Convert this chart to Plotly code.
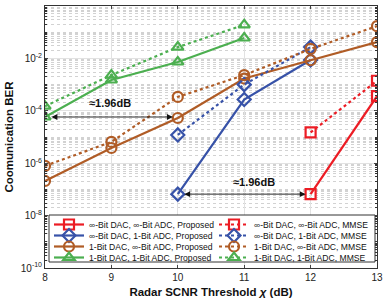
import numpy as np
import plotly.graph_objects as go

# series values (BER)
red_prop_x = [12, 13]
red_prop = [6.6e-8, 3.6e-4]
red_mmse_x = [12, 13]
red_mmse = [1.5e-5, 1.4e-3]

blue_prop_x = [10, 11, 12]
blue_prop = [6.6e-8, 2.7e-4, 8.7e-3]
blue_mmse_x = [10, 11, 12]
blue_mmse = [1.2e-5, 1.0e-3, 2.7e-2]

brown_prop_x = [8, 9, 10, 11, 12, 13]
brown_prop = [2.1e-7, 3.8e-6, 5.3e-5, 1.7e-3, 8.5e-3, 4.2e-2]
brown_mmse_x = [8, 9, 10, 11, 12, 13]
brown_mmse = [7.9e-7, 6.5e-6, 3.4e-4, 2.3e-3, 2.3e-2, 1.7e-1]

green_prop_x = [8, 9, 10, 11]
green_prop = [5.8e-5, 1.5e-3, 7.3e-3, 6.0e-2]
green_mmse_x = [8, 9, 10, 11]
green_mmse = [1.5e-4, 2.3e-3, 2.7e-2, 1.9e-1]

x_ticks = [8, 9, 10, 11, 12, 13]
y_ticks = [1e-10, 1e-8, 1e-6, 1e-4, 1e-2, 1e0]
y_ticktext = ["10<sup>-10</sup>", "10<sup>-8</sup>", "10<sup>-6</sup>",
              "10<sup>-4</sup>", "10<sup>-2</sup>", "10<sup>0</sup>"]

RED = "#EC1C24"
BLUE = "#3752A8"
BROWN = "#B05C26"
GREEN = "#4CAF50"

# (x, y, colour, marker, dash, label, legend column, legend row)
series = [
    (red_prop_x, red_prop, RED, "square-open", "solid", "∞-Bit DAC, ∞-Bit ADC, Proposed", 0, 0),
    (blue_prop_x, blue_prop, BLUE, "diamond-open", "solid", "∞-Bit DAC, 1-Bit ADC, Proposed", 0, 1),
    (brown_prop_x, brown_prop, BROWN, "circle-open", "solid", "1-Bit DAC, ∞-Bit ADC, Proposed", 0, 2),
    (green_prop_x, green_prop, GREEN, "triangle-up-open", "solid", "1-Bit DAC, 1-Bit ADC, Proposed", 0, 3),
    (red_mmse_x, red_mmse, RED, "square-open", "dot", "∞-Bit DAC, ∞-Bit ADC, MMSE", 1, 0),
    (blue_mmse_x, blue_mmse, BLUE, "diamond-open", "dot", "∞-Bit DAC, 1-Bit ADC, MMSE", 1, 1),
    (brown_mmse_x, brown_mmse, BROWN, "circle-open", "dot", "1-Bit DAC, ∞-Bit ADC, MMSE", 1, 2),
    (green_mmse_x, green_mmse, GREEN, "triangle-up-open", "dot", "1-Bit DAC, 1-Bit ADC, MMSE", 1, 3),
]

# figure geometry (px)
W, H = 390, 305
ML, MR, MT, MB = 45, 13, 6, 37
PW, PH = W - ML - MR, H - MT - MB

def px_x(p):
    return (p - ML) / PW

def px_y(p):
    return (H - MB - p) / PH

legend_col_px = [49, 214]
legend_row_px = [224.5, 235.5, 246.5, 257.5]

fig = go.Figure()
legends = {}
for i, (xs, ys, c, sym, dash, name, col, row) in enumerate(series):
    lg = "legend" if i == 0 else f"legend{i + 1}"
    fig.add_trace(go.Scatter(
        x=xs, y=ys, name=name, mode="lines+markers", legend=lg,
        line=dict(color=c, width=2.2, dash=dash),
        marker=dict(symbol=sym, size=10, color=c, line=dict(color=c, width=2.2)),
    ))
    legends[lg] = dict(
        orientation="v", xanchor="left", yanchor="middle",
        x=px_x(legend_col_px[col]), y=px_y(legend_row_px[row]),
        font=dict(size=8.6, color="#111"),
        bgcolor="rgba(0,0,0,0)", borderwidth=0, itemwidth=30, tracegroupgap=0,
    )

minor_vals = [k * 10.0 ** e for e in range(-10, 0) for k in range(2, 10)] + \
             [10.0 ** e for e in (-9, -7, -5, -3, -1)]

fig.update_layout(
    width=W, height=H,
    margin=dict(l=ML, r=MR, t=MT, b=MB),
    paper_bgcolor="white", plot_bgcolor="white",
    font=dict(family="Liberation Sans, Arial", size=10, color="#222"),
    showlegend=True,
    xaxis=dict(
        range=[8, 13], tickvals=x_ticks, ticks="inside", ticklen=3,
        showline=True, linecolor="#333", linewidth=1, mirror="ticks",
        showgrid=True, gridcolor="#e2e2e2", gridwidth=1, zeroline=False,
        title=dict(text="<b>Radar SCNR Threshold <i>χ</i> (dB)</b>", font=dict(size=11.5, color="#111"), standoff=5),
        tickfont=dict(size=10, color="#222"),
    ),
    yaxis=dict(
        type="log", range=[-10, 0], tickvals=y_ticks, ticktext=y_ticktext,
        ticks="inside", ticklen=3,
        showline=True, linecolor="#333", linewidth=1, mirror="ticks",
        showgrid=True, gridcolor="#e2e2e2", gridwidth=1, zeroline=False,
        minor=dict(tickvals=minor_vals, showgrid=True, gridcolor="#d2d2d2",
                   griddash="dot", gridwidth=1, ticks="inside", ticklen=2, tickcolor="#333"),
        title=dict(text="<b>Coomunication BER</b>", font=dict(size=11.5, color="#111"), standoff=4),
        tickfont=dict(size=10, color="#222"),
    ),
    **legends,
)

# legend frame (opaque box behind both legend columns)
fig.add_shape(type="rect", xref="paper", yref="paper",
              x0=px_x(49), x1=px_x(375), y0=px_y(262), y1=px_y(215),
              fillcolor="white", line=dict(color="#333", width=1), layer="above")

# 1.96 dB gap annotations
gap1_y = np.log10(green_prop[0])
gap2_y = np.log10(red_prop[0])
fig.add_annotation(x=10, y=gap1_y, ax=8, ay=gap1_y, xref="x", yref="y", axref="x", ayref="y",
                   text="", showarrow=True, arrowhead=2, arrowside="end+start",
                   arrowsize=1.3, arrowwidth=0.9, arrowcolor="#111", standoff=5, startstandoff=5)
fig.add_annotation(x=12, y=gap2_y, ax=10, ay=gap2_y, xref="x", yref="y", axref="x", ayref="y",
                   text="", showarrow=True, arrowhead=2, arrowside="end+start",
                   arrowsize=1.3, arrowwidth=0.9, arrowcolor="#111", standoff=5, startstandoff=5)
fig.add_annotation(x=8.98, y=gap1_y, xref="x", yref="y", yshift=14, showarrow=False,
                   text="<b>≈1.96dB</b>", font=dict(size=11, color="#111"))
fig.add_annotation(x=11.15, y=gap2_y, xref="x", yref="y", yshift=12, showarrow=False,
                   text="<b>≈1.96dB</b>", font=dict(size=11, color="#111"))

fig.write_html("out.html", config={"displayModeBar": False},
               post_script="document.body.style.margin='0';document.body.style.overflow='hidden';")
